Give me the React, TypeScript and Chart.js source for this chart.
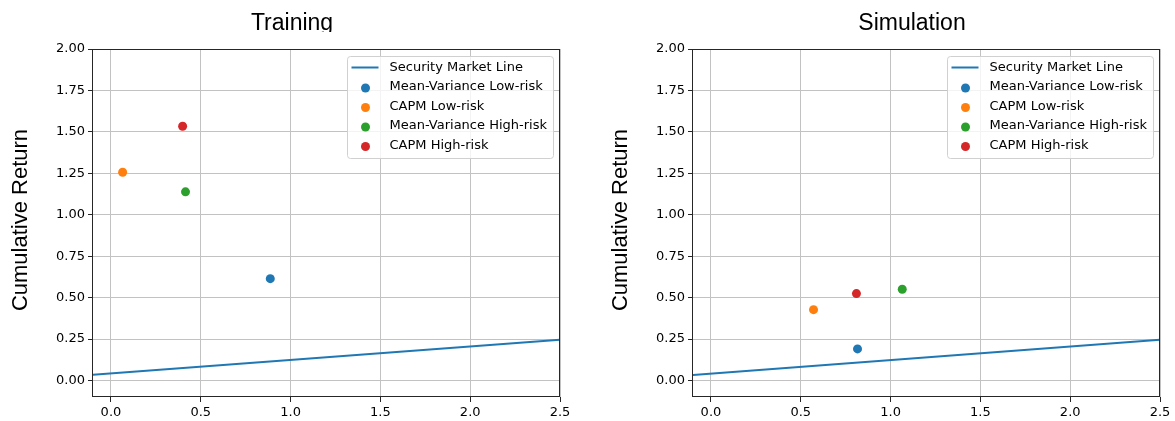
import React, { useEffect, useRef } from 'react';
import { Chart, registerables } from 'chart.js';

Chart.register(...registerables);

// ---------- data ----------
const panelTitles = ['Training', 'Simulation'];
const yAxisTitle = 'Cumulative Return';
const seriesNames = [
  'Security Market Line',
  'Mean-Variance Low-risk',
  'CAPM Low-risk',
  'Mean-Variance High-risk',
  'CAPM High-risk',
];
const seriesColors = ['#1f77b4', '#1f77b4', '#ff7f0e', '#2ca02c', '#d62728'];

const xTicks = [0, 0.5, 1.0, 1.5, 2.0, 2.5];
const yTicks = [0, 0.25, 0.5, 0.75, 1.0, 1.25, 1.5, 1.75, 2.0];
const xRange = [-0.1, 2.5];
const yRange = [-0.1, 2.0];

// Security Market Line endpoints (beta, return)
const smlBeta = [-0.1, 2.5];
const trainingSmlReturn = [0.035, 0.246];
const simulationSmlReturn = [0.032, 0.246];

// Portfolios: Mean-Variance Low, CAPM Low, Mean-Variance High, CAPM High
const trainingBeta = [0.887, 0.065, 0.415, 0.399];
const trainingReturn = [0.614, 1.256, 1.138, 1.534];
const simulationBeta = [0.816, 0.571, 1.065, 0.81];
const simulationReturn = [0.19, 0.427, 0.55, 0.524];

// ---------- styling ----------
const TICK_FONT = { family: '"DejaVu Sans", sans-serif', size: 13 };
const GRID_COLOR = '#c2c2c2';
const SPINE_COLOR = '#262626';

const decorPlugin = {
  id: 'panelDecor',
  afterDraw(chart: any, _args: any, opts: any) {
    const ctx = chart.ctx;
    const a = chart.chartArea;
    ctx.save();
    // frame (spines)
    ctx.strokeStyle = SPINE_COLOR;
    ctx.lineWidth = 1;
    ctx.strokeRect(
      Math.round(a.left) - 0.5,
      Math.round(a.top) + 0.5,
      Math.round(a.right) - Math.round(a.left),
      Math.round(a.bottom) - Math.round(a.top) - 1
    );

    // legend
    const bw = 206;
    const bh = 102;
    const bx = Math.round(a.right) - 213 + 0.5;
    const by = Math.round(a.top) + 7 + 0.5;
    ctx.beginPath();
    if (ctx.roundRect) ctx.roundRect(bx, by, bw, bh, 3);
    else ctx.rect(bx, by, bw, bh);
    ctx.fillStyle = 'rgba(255,255,255,0.8)';
    ctx.fill();
    ctx.strokeStyle = '#d0d0d0';
    ctx.lineWidth = 1;
    ctx.stroke();

    ctx.font = '13px "DejaVu Sans", sans-serif';
    ctx.textAlign = 'left';
    ctx.textBaseline = 'middle';
    seriesNames.forEach((name, i) => {
      const ry = by + 11 + i * 19.5;
      if (i === 0) {
        ctx.strokeStyle = seriesColors[i];
        ctx.lineWidth = 2;
        ctx.beginPath();
        ctx.moveTo(bx + 4, ry);
        ctx.lineTo(bx + 31, ry);
        ctx.stroke();
      } else {
        ctx.fillStyle = seriesColors[i];
        ctx.beginPath();
        ctx.arc(bx + 18, ry + 1, 4.5, 0, Math.PI * 2);
        ctx.fill();
      }
      ctx.fillStyle = '#000';
      ctx.fillText(name, bx + 42, ry);
    });

    // y axis title
    ctx.save();
    ctx.translate(21, a.top + 171);
    ctx.rotate(-Math.PI / 2);
    ctx.font = '22px "Liberation Sans", Arial, sans-serif';
    ctx.textAlign = 'center';
    ctx.textBaseline = 'middle';
    ctx.fillStyle = '#000';
    ctx.fillText(yAxisTitle, 0, 0);
    ctx.restore();

    // panel title (clipped at bottom like the reference)
    ctx.save();
    ctx.beginPath();
    ctx.rect(0, 0, chart.width, 32);
    ctx.clip();
    ctx.font = '23px "Liberation Sans", Arial, sans-serif';
    ctx.textAlign = 'center';
    ctx.textBaseline = 'alphabetic';
    ctx.fillStyle = '#000';
    ctx.fillText(opts.title, opts.titleX, 29.5);
    ctx.restore();

    ctx.restore();
  },
};

function buildConfig(title: string, titleX: number, padRight: number, smlY: number[], beta: number[], ret: number[]) {
  const datasets: any[] = [
    {
      label: seriesNames[0],
      data: smlBeta.map((x, i) => ({ x, y: smlY[i] })),
      showLine: true,
      borderColor: seriesColors[0],
      backgroundColor: seriesColors[0],
      borderWidth: 2,
      pointRadius: 0,
      order: 5,
    },
  ];
  beta.forEach((b, i) => {
    datasets.push({
      label: seriesNames[i + 1],
      data: [{ x: b, y: ret[i] }],
      backgroundColor: seriesColors[i + 1],
      borderColor: seriesColors[i + 1],
      borderWidth: 0,
      pointRadius: 4.5,
      order: 4 - i,
    });
  });
  return {
    type: 'scatter',
    data: { datasets },
    plugins: [decorPlugin],
    options: {
      animation: false,
      responsive: false,
      events: [],
      layout: { padding: { top: 49, right: padRight, left: 0, bottom: 0 } },
      plugins: {
        legend: { display: false },
        tooltip: { enabled: false },
        title: { display: false },
        panelDecor: { title, titleX },
      },
      scales: {
        x: {
          type: 'linear',
          min: xRange[0],
          max: xRange[1],
          afterBuildTicks: (s: any) => {
            s.ticks = xTicks.map((v) => ({ value: v }));
          },
          afterFit: (s: any) => {
            s.height = 24;
          },
          ticks: {
            font: TICK_FONT,
            color: '#000',
            padding: 3,
            maxRotation: 0,
            autoSkip: false,
            callback: (v: any) => Number(v).toFixed(1),
          },
          grid: { color: GRID_COLOR, lineWidth: 1, tickLength: 5, tickColor: SPINE_COLOR },
          border: { display: false },
        },
        y: {
          type: 'linear',
          min: yRange[0],
          max: yRange[1],
          afterBuildTicks: (s: any) => {
            s.ticks = yTicks.map((v) => ({ value: v }));
          },
          afterFit: (s: any) => {
            s.width = 93;
          },
          ticks: {
            font: TICK_FONT,
            color: '#000',
            padding: 3,
            autoSkip: false,
            callback: (v: any) => Number(v).toFixed(2),
          },
          grid: { color: GRID_COLOR, lineWidth: 1, tickLength: 5, tickColor: SPINE_COLOR },
          border: { display: false },
        },
      },
    },
  } as any;
}

function Panel(props: { left: number; width: number; config: any }) {
  const ref = useRef<HTMLCanvasElement>(null);
  useEffect(() => {
    if (!ref.current) return;
    const chart = new Chart(ref.current, props.config);
    return () => chart.destroy();
  }, []);
  return (
    <canvas
      ref={ref}
      width={props.width}
      height={421}
      style={{ position: 'absolute', left: props.left, top: 0, width: props.width, height: 421 }}
    />
  );
}

export default function App() {
  const trainingConfig = buildConfig(panelTitles[0], 292, 20, trainingSmlReturn, trainingBeta, trainingReturn);
  const simulationConfig = buildConfig(panelTitles[1], 312, 15, simulationSmlReturn, simulationBeta, simulationReturn);
  return (
    <div
      style={{
        position: 'absolute',
        left: 0,
        top: 0,
        width: 1175,
        height: 421,
        overflow: 'hidden',
        background: '#fff',
      }}
    >
      <Panel left={0} width={580} config={trainingConfig} />
      <Panel left={600} width={575} config={simulationConfig} />
    </div>
  );
}
